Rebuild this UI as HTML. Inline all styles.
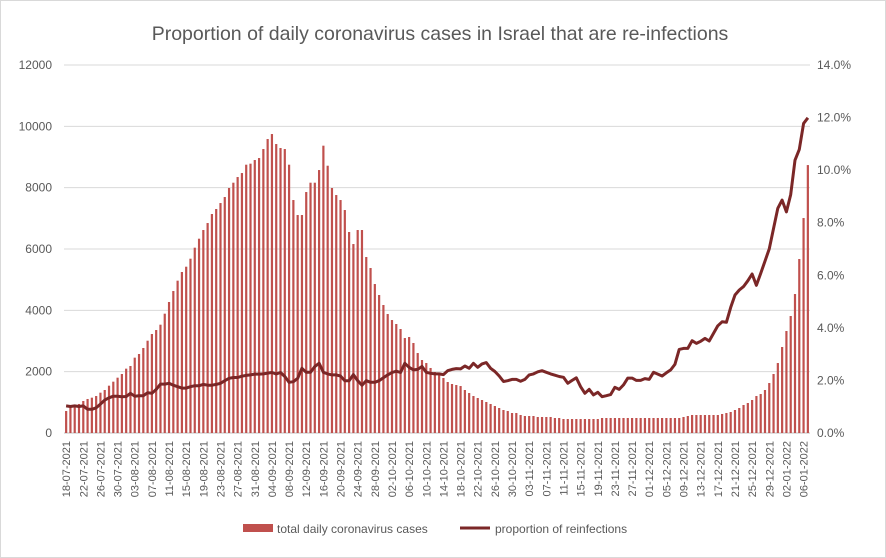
<!DOCTYPE html>
<html><head><meta charset="utf-8"><style>
body{margin:0;background:#fff;}
svg{display:block;font-family:"Liberation Sans",Arial,sans-serif;}
</style></head><body>
<svg id="chart" width="886" height="558" viewBox="0 0 886 558">
<rect x="0.5" y="0.5" width="885" height="557" fill="#fff" stroke="#d9d9d9"/>
<text x="440" y="40" text-anchor="middle" font-size="19.5" fill="#595959">Proportion of daily coronavirus cases in Israel that are re-infections</text>
<g id="grid"></g><g id="bars"></g><g id="line"></g><g id="axes"></g>
<g>
<rect x="243" y="524" width="30" height="8" fill="#c0504d"/>
<text x="277" y="533" font-size="12" fill="#595959">total daily coronavirus cases</text>
<line x1="460" y1="528" x2="490" y2="528" stroke="#7b2727" stroke-width="3"/>
<text x="495" y="533" font-size="12" fill="#595959">proportion of reinfections</text>
</g>
</svg>
<script>
const cases = [717,858,891,946,1043,1109,1152,1206,1315,1402,1543,1674,1804,1924,2098,2185,2457,2576,2772,3010,3228,3358,3532,3891,4272,4630,4967,5250,5423,5684,6043,6336,6619,6847,7141,7304,7499,7695,7989,8162,8347,8477,8749,8782,8901,8966,9260,9586,9749,9423,9293,9260,8749,7597,7108,7108,7858,8162,8162,8575,9369,8716,7989,7760,7597,7271,6554,6162,6619,6619,5739,5380,4858,4500,4174,3880,3684,3554,3391,3097,3130,2935,2608,2380,2282,2120,1989,1924,1793,1663,1598,1565,1532,1402,1304,1206,1141,1076,1011,946,880,815,750,717,652,652,587,554,554,554,522,522,522,522,489,489,456,456,456,456,456,456,456,456,456,489,489,489,489,489,489,489,489,489,489,489,489,489,489,489,489,489,489,489,522,554,587,587,587,587,587,587,587,620,652,685,750,815,913,978,1076,1206,1271,1402,1630,1924,2282,2804,3326,3815,4532,5673,7010,8737];
const reinf = [1.03,1.01,1.03,1.01,1.03,0.90,0.90,0.96,1.10,1.25,1.34,1.40,1.40,1.38,1.39,1.51,1.40,1.42,1.42,1.53,1.51,1.66,1.86,1.86,1.89,1.82,1.76,1.71,1.71,1.76,1.80,1.80,1.85,1.82,1.82,1.85,1.89,1.99,2.08,2.11,2.11,2.16,2.19,2.21,2.24,2.24,2.25,2.28,2.30,2.25,2.30,2.15,1.93,1.95,2.08,2.46,2.31,2.31,2.53,2.65,2.31,2.25,2.21,2.21,2.17,1.99,1.99,2.22,1.99,1.82,1.99,1.93,1.93,1.99,2.10,2.21,2.30,2.35,2.30,2.65,2.50,2.40,2.42,2.53,2.31,2.27,2.25,2.25,2.22,2.37,2.42,2.45,2.44,2.55,2.46,2.65,2.50,2.63,2.68,2.46,2.34,2.17,1.96,1.99,2.04,2.04,1.97,2.04,2.21,2.25,2.33,2.37,2.31,2.25,2.20,2.15,2.12,1.89,2.00,2.10,1.76,1.51,1.66,1.45,1.55,1.38,1.42,1.46,1.74,1.66,1.83,2.09,2.09,2.00,2.00,2.07,2.04,2.31,2.24,2.17,2.29,2.40,2.61,3.18,3.22,3.22,3.51,3.41,3.49,3.60,3.50,3.79,4.08,4.23,4.21,4.78,5.25,5.44,5.57,5.79,6.05,5.62,6.07,6.54,7.01,7.79,8.55,8.86,8.41,9.07,10.38,10.79,11.78,11.99];
const leftTicks = [0,2000,4000,6000,8000,10000,12000];
const rightTicks = ["0.0%","2.0%","4.0%","6.0%","8.0%","10.0%","12.0%","14.0%"];
const startDate = [2021,6,18];

const NS="http://www.w3.org/2000/svg";
const X0=64,X1=810,Y0=433,Y1=65;
const n=Math.max(cases.length,reinf.length), step=(X1-X0)/n;
const xPos=i=>X0+(i+0.5)*step;
const yL=v=>Y0-(v/12000)*(Y0-Y1);
const yR=p=>Y0-(p/14)*(Y0-Y1);
function mk(tag,attrs,parent){const e=document.createElementNS(NS,tag);for(const k in attrs)e.setAttribute(k,attrs[k]);parent.appendChild(e);return e;}
const grid=document.getElementById('grid'),bars=document.getElementById('bars'),line=document.getElementById('line'),axes=document.getElementById('axes');
leftTicks.forEach(v=>{
  const l=mk('line',{x1:X0,x2:X1,y1:yL(v),y2:yL(v),stroke:v===0?'#bfbfbf':'#d9d9d9','stroke-width':1},grid);
  
  
  const t=mk('text',{x:52,y:yL(v)+4,'text-anchor':'end','font-size':12,fill:'#595959'},axes);
  t.textContent=v;
  
  
});
rightTicks.forEach((s,i)=>{
  const t=mk('text',{x:817,y:yR(i*2)+4,'text-anchor':'start','font-size':12,fill:'#595959'},axes);
  t.textContent=s;
  
  
});
cases.forEach((v,i)=>{
  const r=mk('rect',{x:xPos(i)-1.1,y:yL(v),width:2.2,height:Y0-yL(v),fill:'#c0504d'},bars);
  
  
});
const pts=reinf.map((p,i)=>xPos(i).toFixed(1)+','+yR(p).toFixed(1)).join(' ');
const pl=mk('polyline',{points:pts,fill:'none',stroke:'#7b2727','stroke-width':3,'stroke-linejoin':'round'},line);


const d0=new Date(startDate[0],startDate[1],startDate[2]);
for(let i=0;i<n;i+=4){
  const d=new Date(d0.getTime());d.setDate(d.getDate()+i);
  const s=String(d.getDate()).padStart(2,'0')+'-'+String(d.getMonth()+1).padStart(2,'0')+'-'+d.getFullYear();
  const x=xPos(i)+4,y=441;
  const t=mk('text',{x:x,y:y,'text-anchor':'end','font-size':11,fill:'#595959',transform:`rotate(-90 ${x} ${y})`},axes);
  t.textContent=s;
  
  
}
</script>
</body></html>
